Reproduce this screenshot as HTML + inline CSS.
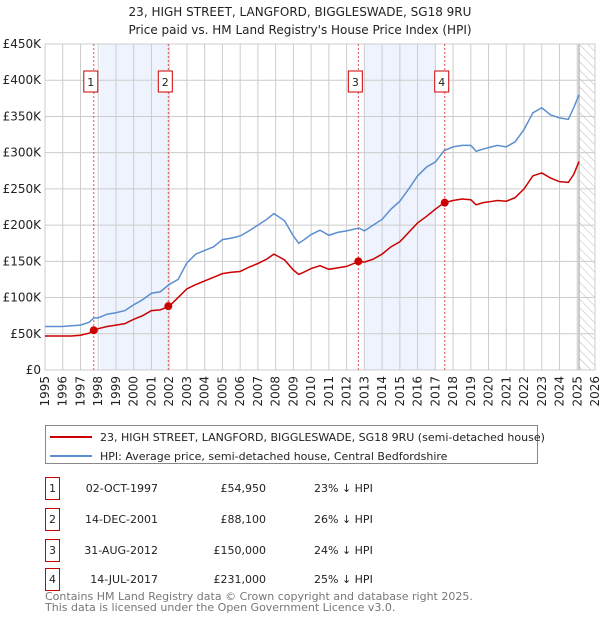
<!DOCTYPE html>
<html><head><meta charset="utf-8"><style>
body{margin:0;background:#fff;font-family:"Liberation Sans","DejaVu Sans",sans-serif;}
svg text{font-family:"DejaVu Sans","Liberation Sans",sans-serif;}
</style></head><body>
<svg id="c" width="600" height="620" xmlns="http://www.w3.org/2000/svg">
<defs><pattern id="hatch" width="6" height="6" patternUnits="userSpaceOnUse" patternTransform="rotate(-45)"><line x1="0" y1="0" x2="0" y2="6" stroke="#bbb" stroke-width="1"/></pattern></defs>
<text x="300" y="16" text-anchor="middle" font-size="12" fill="#222">23, HIGH STREET, LANGFORD, BIGGLESWADE, SG18 9RU</text>
<text x="300" y="34" text-anchor="middle" font-size="12" fill="#222">Price paid vs. HM Land Registry's House Price Index (HPI)</text>
<g id="plot"></g>
<g>
<rect x="45.5" y="425.5" width="492" height="38" fill="#fff" stroke="#888"/>
<line x1="50" y1="437" x2="92" y2="437" stroke="#cc0000" stroke-width="2"/>
<text x="100" y="441" font-size="11" fill="#222">23, HIGH STREET, LANGFORD, BIGGLESWADE, SG18 9RU (semi-detached house)</text>
<line x1="50" y1="456" x2="92" y2="456" stroke="#5b8fd0" stroke-width="2"/>
<text x="100" y="460" font-size="11" fill="#222">HPI: Average price, semi-detached house, Central Bedfordshire</text>
</g>
<g id="table" font-size="11" fill="#222"></g>
<text x="45" y="600" font-size="11" fill="#777">Contains HM Land Registry data © Crown copyright and database right 2025.</text>
<text x="45" y="611" font-size="11" fill="#777">This data is licensed under the Open Government Licence v3.0.</text>
</svg>
<script>
const hpiYears=[1995,1996,1996.5,1997,1997.5,1997.75,1998,1998.5,1999,1999.5,2000,2000.5,2001,2001.5,2002,2002.5,2003,2003.5,2004,2004.5,2005,2005.5,2006,2006.5,2007,2007.5,2007.9,2008.5,2009,2009.3,2009.5,2010,2010.5,2011,2011.5,2012,2012.7,2013,2013.5,2014,2014.5,2015,2015.5,2016,2016.5,2017,2017.5,2018,2018.5,2019,2019.3,2019.7,2020,2020.5,2021,2021.5,2022,2022.5,2023,2023.5,2024,2024.5,2024.8,2025.1];
const hpiValues=[60,60,61,62,66,72,72,77,79,82,90,97,106,108,118,125,148,160,165,170,180,182,185,192,200,208,216,206,185,175,178,187,193,186,190,192,196,192,200,208,222,233,250,268,280,287,303,308,310,310,302,305,307,310,308,315,332,355,362,352,348,346,362,380];
const priceValues=[47,47,47,48,51,55,57,60,62,64,70,75,82,83,88,100,112,118,123,128,133,135,136,142,147,153,160,152,138,132,134,140,144,139,141,143,150,149,153,160,170,177,190,203,212,222,231,234,236,235,228,231,232,234,233,238,250,268,272,265,260,259,270,288];
const saleLabels=["1","2","3","4"];
const saleYears=[1997.75,2001.95,2012.66,2017.53];
const saleValues=[54.95,88.1,150,231];
const saleDates=["02-OCT-1997","14-DEC-2001","31-AUG-2012","14-JUL-2017"];
const salePrices=["£54,950","£88,100","£150,000","£231,000"];
const saleDiffs=["23% ↓ HPI","26% ↓ HPI","24% ↓ HPI","25% ↓ HPI"];
const yTicks=[0,50,100,150,200,250,300,350,400,450];
const yTickLabels=["£0","£50K","£100K","£150K","£200K","£250K","£300K","£350K","£400K","£450K"];
const xTicks=[1995,1996,1997,1998,1999,2000,2001,2002,2003,2004,2005,2006,2007,2008,2009,2010,2011,2012,2013,2014,2015,2016,2017,2018,2019,2020,2021,2022,2023,2024,2025,2026];
const shadeRanges=[[1998.1,2001.95],[2013.0,2017.0]];
const NS="http://www.w3.org/2000/svg";
const X0=45,X1=595,Y0=370,Y1=44;
const xs=y=>X0+(y-1995)/(2026-1995)*(X1-X0);
const ys=v=>Y0-v/450*(Y0-Y1);
const plot=document.getElementById('plot');
function mk(tag,attrs,parent){const e=document.createElementNS(NS,tag);for(const k in attrs)e.setAttribute(k,attrs[k]);(parent||plot).appendChild(e);return e;}
shadeRanges.forEach(r=>{const e=mk('rect',{x:xs(r[0]),y:Y1,width:xs(r[1])-xs(r[0]),height:Y0-Y1,fill:'#eef3fd'});

});
const h=mk('rect',{x:xs(2025.1),y:Y1,width:X1-xs(2025.1),height:Y0-Y1,fill:'url(#hatch)'});


mk('line',{x1:xs(2025.1),y1:Y1,x2:xs(2025.1),y2:Y0,stroke:'#999','stroke-width':1});
yTicks.forEach((t,i)=>{mk('line',{x1:X0,x2:X1,y1:ys(t),y2:ys(t),stroke:'#ccc'});
const tx=mk('text',{x:X0-4,y:ys(t)+4,'text-anchor':'end','font-size':'12',fill:'#222'});tx.textContent=yTickLabels[i];

});
xTicks.forEach(t=>{mk('line',{x1:xs(t),x2:xs(t),y1:Y1,y2:Y0,stroke:'#ccc'});
const tx=mk('text',{x:0,y:0,'text-anchor':'end','font-size':'12',fill:'#222',transform:`translate(${xs(t)+4},376) rotate(-90)`});tx.textContent=t;

});
mk('rect',{x:X0,y:Y1,width:X1-X0,height:Y0-Y1,fill:'none',stroke:'#ccc'});
saleYears.forEach((y,i)=>{mk('line',{x1:xs(y),x2:xs(y),y1:Y1,y2:Y0,stroke:'#e05050','stroke-dasharray':'2,2','stroke-width':1});
const b=mk('rect',{x:xs(y)-3-7,y:71,width:14,height:21,fill:'#fff',stroke:'#c00'});


const t=mk('text',{x:xs(y)-3,y:86,'text-anchor':'middle','font-size':'11',fill:'#222'});t.textContent=saleLabels[i];});
const line=(vals,col,name)=>{const p=mk('polyline',{points:hpiYears.map((y,i)=>xs(y)+','+ys(vals[i])).join(' '),fill:'none',stroke:col,'stroke-width':1.5});

};
line(hpiValues,'#5b8fd0','hpi-line');
line(priceValues,'#cc0000','price-line');
saleYears.forEach((y,i)=>{const c=mk('circle',{cx:xs(y),cy:ys(saleValues[i]),r:4,fill:'#cc0000'});

});
const tb=document.getElementById('table');
const rowY=[487,518,549,578];
saleLabels.forEach((l,i)=>{const y=rowY[i];
const b=mk('rect',{x:45.5,y:y-9.5,width:14,height:22,fill:'#fff',stroke:'#c00'},tb);


const cells=[[52.5,l,'middle'],[158,saleDates[i],'end'],[266,salePrices[i],'end'],[314,saleDiffs[i],'start']];
cells.forEach(c=>{const t=mk('text',{x:c[0],y:y+5,'text-anchor':c[2],'font-size':'11',fill:'#222'},tb);t.textContent=c[1];

});});
</script>
</body></html>
